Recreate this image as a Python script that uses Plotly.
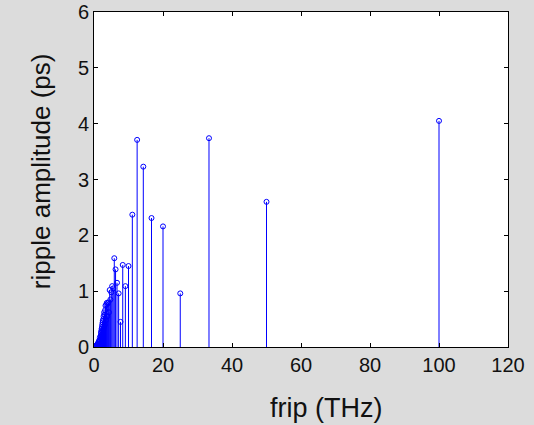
import plotly.graph_objects as go

frip = [100, 50, 33.33, 25, 20, 16.67, 14.29, 12.5, 11.11, 10, 9.09, 8.33, 7.69, 7.14,
        6.67, 6.25, 5.88, 5.56, 5.26, 5.0, 4.76, 4.55, 4.35, 4.17, 4.0, 3.85, 3.70, 3.57,
        3.45, 3.33, 3.23, 3.13, 3.03, 2.94, 2.86, 2.78, 2.70, 2.63, 2.56, 2.5, 2.44, 2.38,
        2.33, 2.27, 2.22, 2.17, 2.13, 2.08, 2.04, 2.0, 1.9, 1.8, 1.7, 1.6, 1.5, 1.4, 1.3,
        1.2, 1.1, 1.0, 0.9, 0.8, 0.7, 0.6, 0.5, 0.4, 0.3, 0.2, 0.1]
amp = [4.05, 2.60, 3.74, 0.96, 2.16, 2.31, 3.23, 3.71, 2.37, 1.45, 1.09, 1.47, 0.45, 0.96,
       1.15, 1.39, 1.59, 1.05, 1.09, 0.98, 0.85, 1.02, 0.62, 0.80, 0.78, 0.55, 0.79, 0.76,
       0.48, 0.74, 0.66, 0.40, 0.58, 0.62, 0.35, 0.55, 0.50, 0.30, 0.47, 0.44, 0.26, 0.40,
       0.36, 0.22, 0.33, 0.30, 0.18, 0.27, 0.25, 0.15, 0.20, 0.13, 0.17, 0.10, 0.12, 0.08,
       0.09, 0.06, 0.06, 0.04, 0.04, 0.03, 0.02, 0.02, 0.01, 0.01, 0.0, 0.0, 0.0]

x_ticks = [0, 20, 40, 60, 80, 100, 120]
y_ticks = [0, 1, 2, 3, 4, 5, 6]
x_title = "frip (THz)"
y_title = "ripple amplitude (ps)"

sx, sy = [], []
for xv, yv in zip(frip, amp):
    sx += [xv, xv, None]
    sy += [0, yv, None]

blue = "rgb(0,0,255)"
fig = go.Figure()
fig.add_trace(go.Scatter(x=sx, y=sy, mode="lines", line=dict(color=blue, width=1),
                         hoverinfo="skip", showlegend=False))
fig.add_trace(go.Scatter(x=frip, y=amp, mode="markers",
                         marker=dict(symbol="circle-open", size=5, color=blue,
                                     line=dict(width=1, color=blue)),
                         showlegend=False))

font_family = "Liberation Sans, Arial"
axis_common = dict(showline=True, linecolor="black", linewidth=1, mirror="ticks",
                   ticks="inside", ticklen=4, tickcolor="black", showgrid=False,
                   zeroline=False, automargin=False,
                   tickfont=dict(family=font_family, size=20, color="#111"))

fig.update_xaxes(range=[0, 120], tickvals=x_ticks, ticktext=[str(v) for v in x_ticks],
                 **axis_common)
fig.update_yaxes(range=[0, 6], tickvals=y_ticks, ticktext=[str(v) for v in y_ticks],
                 **axis_common)

fig.add_annotation(text=x_title, xref="paper", yref="paper", x=0.56, y=-0.182,
                   xanchor="center", yanchor="middle", showarrow=False,
                   font=dict(family=font_family, size=27, color="#111"))
fig.add_annotation(text=y_title, xref="paper", yref="paper", x=-0.128, y=0.525,
                   xanchor="center", yanchor="middle", showarrow=False, textangle=-90,
                   font=dict(family=font_family, size=26, color="#111"))

fig.update_layout(width=534, height=425, paper_bgcolor="#dcdcdc", plot_bgcolor="white",
                  margin=dict(l=94, r=26, t=12, b=78, pad=0))

fig.write_html("out.html", config={"displayModeBar": False},
               post_script="document.body.style.margin='0';document.body.style.overflow='hidden';")
